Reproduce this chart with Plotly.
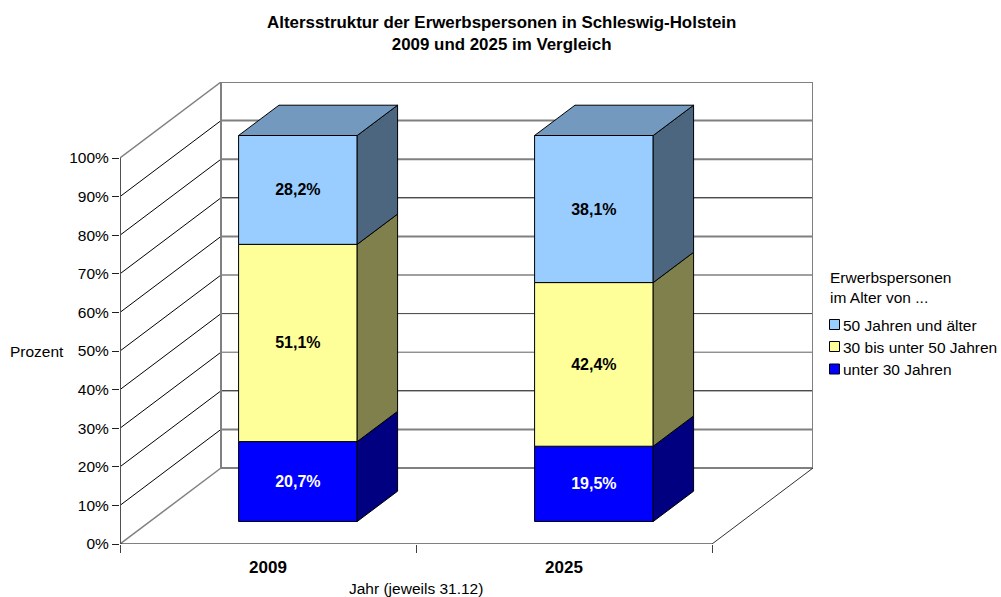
import plotly.graph_objects as go

years = ["2009", "2025"]
year_pos = [0.5, 1.5]
series_names = ["50 Jahren und älter", "30 bis unter 50 Jahren", "unter 30 Jahren"]
under_30 = [20.7, 19.5]
from_30_to_50 = [51.1, 42.4]
over_50 = [28.2, 38.1]
percent_ticks = [0, 10, 20, 30, 40, 50, 60, 70, 80, 90, 100]
category_edges = [0, 1, 2]

FONT = "Liberation Sans, Arial, sans-serif"
W, H = 1001, 597
X0, X1, Y0, Y1 = 120, 813, 544, 82       # plot box in page pixels
PX_CAT, PX_PCT = 296.0, 3.86             # pixels per category / per percent

# oblique projection in axis units
WALL_DX, WALL_DY = 101 / PX_CAT, 76 / PX_PCT
GAP_DX, GAP_DY = 29.3 / PX_CAT, 22.5 / PX_PCT
BAR_DX, BAR_DY = 40.4 / PX_CAT, 30.3 / PX_PCT
BAR_W = 118.6 / PX_CAT

front = {"unter": "#0000FF", "mitte": "#FFFF99", "alt": "#99CCFF"}
side = {"unter": "#000080", "mitte": "#80804D", "alt": "#4D6680"}
top_face = "#7399BF"

# how each back-wall gridline comes out in the reference
wall_grid_style = {
    100: ("#808080", 2), 90: ("#808080", 2), 80: ("#808080", 2), 70: ("#000000", 1),
    60: ("#808080", 2), 50: ("#404040", 1), 40: ("#404040", 1), 30: ("#606060", 1),
    20: ("#000000", 1), 10: ("#808080", 2), 0: ("#808080", 2),
}

fig = go.Figure()
shapes = []


def seg(x0, y0, x1, y1, color="#000000", width=1):
    shapes.append(dict(type="line", xref="x", yref="y", x0=x0, y0=y0, x1=x1, y1=y1,
                       layer="below", line=dict(color=color, width=width)))


cat_end = category_edges[-1]
for p in percent_ticks:
    if p in (0, 100):
        seg(0, p, WALL_DX, p + WALL_DY, "#808080", 1.5)
    else:
        seg(0, p, WALL_DX, p + WALL_DY, "#000000", 1)
    seg(WALL_DX, p + WALL_DY, cat_end + WALL_DX, p + WALL_DY, *wall_grid_style[p])
seg(WALL_DX, WALL_DY, WALL_DX, 100 + WALL_DY, "#808080", 2)
seg(cat_end + WALL_DX, WALL_DY, cat_end + WALL_DX, 100 + WALL_DY, "#808080", 2)
seg(cat_end, 0, cat_end + WALL_DX, WALL_DY, "#303030")
seg(0, 0, cat_end, 0)
seg(0, 0, 0, 100, "#505050", 2)

stacks = [
    (series_names[2], under_30, "unter", "#FFFFFF"),
    (series_names[1], from_30_to_50, "mitte", "#000000"),
    (series_names[0], over_50, "alt", "#000000"),
]
centers = [p + GAP_DX + 0.002 for p in year_pos]
cum = [0.0, 0.0]
for name, vals, key, tcolor in stacks:
    bases = [c + GAP_DY for c in cum]
    fig.add_trace(go.Bar(
        x=centers, y=vals, base=bases, width=BAR_W, name=name, showlegend=False,
        marker=dict(color=front[key], line=dict(color="#000000", width=1)),
        text=[f"{v:.1f}%".replace(".", ",") for v in vals],
        textposition="inside", insidetextanchor="middle", textangle=0,
        textfont=dict(family=FONT, size=16, color=tcolor, weight="bold"),
        constraintext="none", hoverinfo="skip",
    ))
    for c, b, v in zip(centers, bases, vals):
        r = c + BAR_W / 2
        fig.add_trace(go.Scatter(
            x=[r, r + BAR_DX, r + BAR_DX, r, r],
            y=[b, b + BAR_DY, b + v + BAR_DY, b + v, b],
            mode="lines", fill="toself", fillcolor=side[key],
            line=dict(color="#000000", width=1), showlegend=False, hoverinfo="skip",
        ))
    cum = [c + v for c, v in zip(cum, vals)]

for c, t in zip(centers, [b + GAP_DY for b in cum]):
    l, r = c - BAR_W / 2, c + BAR_W / 2
    fig.add_trace(go.Scatter(
        x=[l, r, r + BAR_DX, l + BAR_DX, l],
        y=[t, t, t + BAR_DY, t + BAR_DY, t],
        mode="lines", fill="toself", fillcolor=top_face,
        line=dict(color="#000000", width=1), showlegend=False, hoverinfo="skip",
    ))


def px(xp):
    return (xp - X0) / (X1 - X0)


def py(yp):
    return (Y0 - yp) / (Y0 - Y1)


# legend key, laid out to match the reference's tight swatch-to-text spacing
legend_annotations = []
for (name, key), yc in zip(
    [(series_names[0], "alt"), (series_names[1], "mitte"), (series_names[2], "unter")],
    [324.5, 346.5, 369],
):
    shapes.append(dict(type="rect", xref="paper", yref="paper",
                       x0=px(829.5), x1=px(839.5), y0=py(yc + 5), y1=py(yc - 5),
                       fillcolor=front[key], line=dict(color="#000000", width=1), layer="above"))
    legend_annotations.append(dict(
        text=name, xref="paper", yref="paper", x=px(841),
        y=py(yc + 0.5), xanchor="left", yanchor="middle",
        showarrow=False, font=dict(family=FONT, size=15.5)))

fig.update_layout(
    width=W, height=H, autosize=False,
    margin=dict(l=X0, r=W - X1, t=Y1, b=H - Y0),
    paper_bgcolor="#FFFFFF", plot_bgcolor="rgba(0,0,0,0)",
    barmode="overlay", shapes=shapes, showlegend=False,
    font=dict(family=FONT, size=15.5, color="#000000"),
    xaxis=dict(
        range=[0, (X1 - X0) / PX_CAT], automargin=False,
        tickmode="array", tickvals=year_pos, ticktext=[f"<b>{y}</b>" for y in years],
        ticks="", showgrid=False, zeroline=False, showline=False,
        ticklabelstandoff=11, tickfont=dict(family=FONT, size=17, color="#000000"),
        minor=dict(tickmode="array", tickvals=category_edges, ticks="outside", ticklen=8,
                   tickwidth=1, tickcolor="#404040", showgrid=False),
    ),
    yaxis=dict(
        range=[0, (Y0 - Y1) / PX_PCT], automargin=False,
        tickmode="array", tickvals=percent_ticks, ticktext=[f"{p}%" for p in percent_ticks],
        ticks="outside", ticklen=7, tickwidth=1, tickcolor="#202020",
        showgrid=False, zeroline=False, showline=False,
        tickfont=dict(family=FONT, size=15.5, color="#000000"),
    ),
    annotations=[
        dict(text="<b>Altersstruktur der Erwerbspersonen in Schleswig-Holstein<br>2009 und 2025 im Vergleich</b>",
             xref="paper", yref="paper", x=px(501.5), y=py(33), xanchor="center", yanchor="middle",
             showarrow=False, font=dict(family=FONT, size=16.9)),
        dict(text="Erwerbspersonen<br>im Alter von ...", xref="paper", yref="paper",
             x=px(828), y=py(287), xanchor="left", yanchor="middle", align="left",
             showarrow=False, font=dict(family=FONT, size=15.5)),
        dict(text="Prozent", xref="paper", yref="y", x=px(8), y=50, xanchor="left",
             yanchor="middle", showarrow=False, font=dict(family=FONT, size=15.5)),
        dict(text="Jahr (jeweils 31.12)", xref="x", yref="paper", x=1, y=py(588.5),
             xanchor="center", yanchor="middle", showarrow=False,
             font=dict(family=FONT, size=15.5)),
    ] + legend_annotations,
)

fig.write_html("out.html", config={"displayModeBar": False},
               post_script="document.body.style.margin='0';document.body.style.overflow='hidden';")
